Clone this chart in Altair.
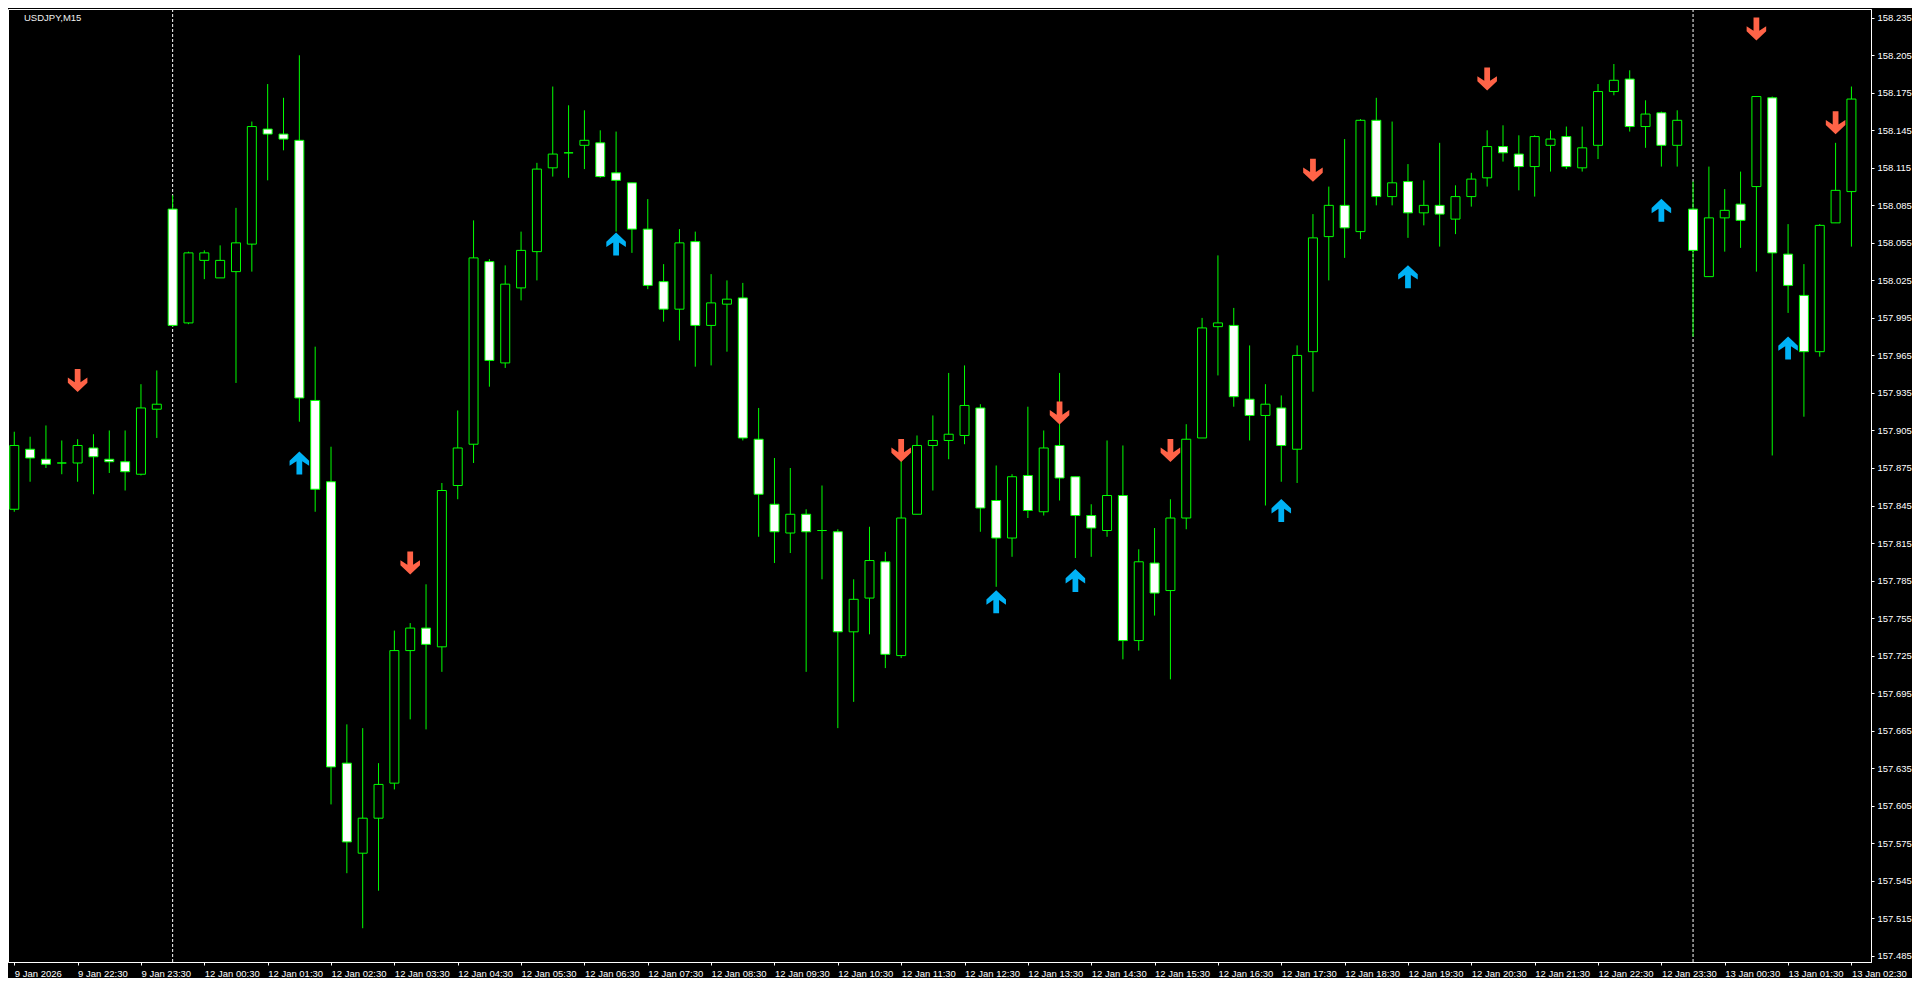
import altair as alt
import pandas as pd

symbol_label = "USDJPY,M15"

opens = [157.842, 157.890, 157.882, 157.879, 157.879, 157.891, 157.882, 157.880, 157.870, 157.922,
         158.082, 157.991, 158.041, 158.027, 158.032, 158.054, 158.146, 158.142, 158.137, 157.929,
         157.864, 157.639, 157.567, 157.595, 157.623, 157.729, 157.747, 157.732, 157.861, 157.894,
         158.040, 157.959, 158.019, 158.048, 158.115, 158.127, 158.133, 158.135, 158.111, 158.103,
         158.066, 158.024, 158.002, 158.056, 157.989, 158.006, 158.011, 157.898, 157.846, 157.823,
         157.838, 157.825, 157.824, 157.744, 157.771, 157.800, 157.725, 157.838, 157.893, 157.897,
         157.901, 157.923, 157.849, 157.819, 157.869, 157.840, 157.893, 157.868, 157.837, 157.825,
         157.853, 157.737, 157.799, 157.777, 157.835, 157.899, 157.988, 157.989, 157.930, 157.917,
         157.923, 157.890, 157.968, 158.060, 158.085, 158.064, 158.153, 158.092, 158.104, 158.079,
         158.085, 158.074, 158.092, 158.107, 158.132, 158.126, 158.116, 158.133, 158.140, 158.115,
         158.133, 158.176, 158.186, 158.148, 158.159, 158.133, 158.082, 158.028, 158.075, 158.086,
         158.100, 158.171, 158.046, 158.013, 157.968, 158.071, 158.096]
highs = [157.904, 157.900, 157.909, 157.897, 157.898, 157.902, 157.905, 157.905, 157.942, 157.953,
         158.093, 158.048, 158.049, 158.053, 158.083, 158.152, 158.182, 158.171, 158.205, 157.972,
         157.892, 157.670, 157.667, 157.639, 157.745, 157.751, 157.782, 157.863, 157.921, 158.073,
         158.042, 158.037, 158.064, 158.119, 158.180, 158.165, 158.161, 158.145, 158.144, 158.103,
         158.090, 158.038, 158.066, 158.064, 158.030, 158.025, 158.023, 157.923, 157.883, 157.875,
         157.842, 157.861, 157.826, 157.786, 157.828, 157.808, 157.883, 157.901, 157.917, 157.951,
         157.957, 157.926, 157.877, 157.870, 157.924, 157.905, 157.951, 157.868, 157.846, 157.897,
         157.893, 157.810, 157.827, 157.850, 157.910, 157.995, 158.045, 158.003, 157.973, 157.942,
         157.933, 157.973, 158.078, 158.100, 158.138, 158.154, 158.171, 158.152, 158.118, 158.105,
         158.135, 158.101, 158.111, 158.145, 158.149, 158.141, 158.141, 158.145, 158.148, 158.148,
         158.182, 158.198, 158.193, 158.169, 158.160, 158.161, 158.104, 158.116, 158.098, 158.112,
         158.172, 158.172, 158.070, 158.038, 158.070, 158.135, 158.180]
lows = [157.840, 157.864, 157.875, 157.870, 157.864, 157.854, 157.871, 157.857, 157.869, 157.899,
        157.988, 157.990, 158.026, 158.027, 157.943, 158.032, 158.105, 158.129, 157.912, 157.840,
        157.606, 157.551, 157.507, 157.537, 157.618, 157.674, 157.666, 157.712, 157.850, 157.879,
        157.940, 157.955, 158.009, 158.025, 158.108, 158.107, 158.114, 158.107, 158.064, 158.047,
        158.018, 157.992, 157.977, 157.956, 157.957, 157.968, 157.897, 157.820, 157.799, 157.807,
        157.712, 157.786, 157.667, 157.688, 157.742, 157.715, 157.723, 157.838, 157.857, 157.882,
        157.894, 157.824, 157.780, 157.804, 157.835, 157.837, 157.849, 157.803, 157.804, 157.820,
        157.722, 157.729, 157.757, 157.706, 157.826, 157.899, 157.949, 157.924, 157.897, 157.845,
        157.864, 157.863, 157.936, 158.025, 158.043, 158.058, 158.085, 158.085, 158.059, 158.069,
        158.052, 158.062, 158.084, 158.100, 158.120, 158.097, 158.092, 158.112, 158.114, 158.112,
        158.122, 158.173, 158.144, 158.131, 158.116, 158.116, 157.980, 158.028, 158.048, 158.051,
        158.032, 157.885, 157.999, 157.916, 157.964, 158.071, 158.052]
closes = [157.893, 157.883, 157.878, 157.879, 157.893, 157.884, 157.880, 157.872, 157.923, 157.926,
          157.989, 158.047, 158.047, 158.041, 158.055, 158.148, 158.142, 158.138, 157.931, 157.858,
          157.636, 157.576, 157.595, 157.622, 157.729, 157.747, 157.734, 157.857, 157.891, 158.043,
          157.961, 158.022, 158.049, 158.114, 158.126, 158.127, 158.137, 158.108, 158.105, 158.066,
          158.021, 158.002, 158.055, 157.989, 158.007, 158.010, 157.899, 157.854, 157.824, 157.838,
          157.824, 157.825, 157.744, 157.770, 157.801, 157.726, 157.835, 157.893, 157.897, 157.902,
          157.925, 157.843, 157.819, 157.868, 157.841, 157.891, 157.867, 157.837, 157.827, 157.853,
          157.737, 157.800, 157.775, 157.835, 157.898, 157.987, 157.991, 157.932, 157.917, 157.926,
          157.893, 157.965, 158.059, 158.085, 158.067, 158.153, 158.092, 158.103, 158.079, 158.085,
          158.078, 158.092, 158.106, 158.132, 158.127, 158.116, 158.140, 158.138, 158.116, 158.131,
          158.176, 158.185, 158.148, 158.158, 158.133, 158.153, 158.049, 158.075, 158.081, 158.073,
          158.172, 158.047, 158.021, 157.968, 158.069, 158.097, 158.170]

time_labels = ["9 Jan 2026", "9 Jan 22:30", "9 Jan 23:30", "12 Jan 00:30", "12 Jan 01:30",
               "12 Jan 02:30", "12 Jan 03:30", "12 Jan 04:30", "12 Jan 05:30", "12 Jan 06:30",
               "12 Jan 07:30", "12 Jan 08:30", "12 Jan 09:30", "12 Jan 10:30", "12 Jan 11:30",
               "12 Jan 12:30", "12 Jan 13:30", "12 Jan 14:30", "12 Jan 15:30", "12 Jan 16:30",
               "12 Jan 17:30", "12 Jan 18:30", "12 Jan 19:30", "12 Jan 20:30", "12 Jan 21:30",
               "12 Jan 22:30", "12 Jan 23:30", "13 Jan 00:30", "13 Jan 01:30", "13 Jan 02:30"]
label_step = 4

price_ticks = [157.485, 157.515, 157.545, 157.575, 157.605, 157.635, 157.665, 157.695, 157.725,
               157.755, 157.785, 157.815, 157.845, 157.875, 157.905, 157.935, 157.965, 157.995,
               158.025, 158.055, 158.085, 158.115, 158.145, 158.175, 158.205, 158.235]

separator_idx = [10, 106]

up_idx = [18, 38, 62, 67, 80, 88, 104, 112]
up_price = [157.879, 158.054, 157.768, 157.785, 157.841, 158.028, 158.081, 157.971]
down_idx = [4, 25, 56, 66, 73, 82, 93, 110, 115]
down_price = [157.945, 157.799, 157.889, 157.919, 157.889, 158.113, 158.186, 158.226, 158.151]

# ---------------------------------------------------------------
n = len(opens)
candles = pd.DataFrame({
    "idx": list(range(n)),
    "open": opens, "high": highs, "low": lows, "close": closes,
})
candles["dir"] = ["bull" if c >= o else "bear" for o, c in zip(opens, closes)]
seps = pd.DataFrame({"idx": separator_idx})
ups = pd.DataFrame({"idx": up_idx, "price": up_price})
downs = pd.DataFrame({"idx": down_idx, "price": down_price})
title_df = pd.DataFrame({"t": [symbol_label]})

FONT = "Liberation Sans"
GREEN = "#00FF00"

label_arr = "[" + ",".join("'" + t + "'" for t in time_labels) + "]"
x_scale = alt.Scale(domain=[-0.08, n - 0.08], nice=False, zero=False)
y_scale = alt.Scale(domain=[157.480, 158.242], nice=False, zero=False)

x_axis = alt.Axis(
    values=[i * label_step for i in range(len(time_labels))],
    labelExpr=label_arr + "[round(datum.value/" + str(label_step) + ")]",
    title=None, grid=False, orient="bottom",
    labelAlign="left", labelBaseline="top", labelPadding=3,
    tickSize=3, labelOverlap=False, labelFlush=False,
)
y_axis = alt.Axis(
    values=price_ticks, format=".3f", title=None, grid=False, orient="right",
    tickSize=3, labelPadding=3, labelOverlap=False, labelFlush=False,
)

x_enc = alt.X("idx:Q", scale=x_scale, axis=x_axis)

sep_layer = alt.Chart(seps).mark_rule(
    color="white", strokeWidth=1, strokeDash=[3, 2]
).encode(x=x_enc)

wicks = alt.Chart(candles).mark_rule(color=GREEN, strokeWidth=1).encode(
    x=x_enc,
    y=alt.Y("low:Q", scale=y_scale, axis=y_axis),
    y2="high:Q",
)

bodies = alt.Chart(candles).mark_bar(
    size=9, stroke=GREEN, strokeWidth=1
).encode(
    x=x_enc,
    y=alt.Y("open:Q", scale=y_scale, axis=y_axis),
    y2="close:Q",
    fill=alt.Fill("dir:N", scale=alt.Scale(domain=["bull", "bear"],
                                           range=["#000000", "#FFFFFF"]), legend=None),
)

UP_PATH = ("M-0.25,1 L0.25,1 L0.25,-0.15 L0.85,0.25 L0.85,-0.2 L0,-1 "
           "L-0.85,-0.2 L-0.85,0.25 L-0.25,-0.15 Z")
DOWN_PATH = ("M-0.25,-1 L0.25,-1 L0.25,0.15 L0.85,-0.25 L0.85,0.2 L0,1 "
             "L-0.85,0.2 L-0.85,-0.25 L-0.25,0.15 Z")

up_layer = alt.Chart(ups).mark_point(
    shape=UP_PATH, filled=True, size=529, color="#00B2F5", opacity=1, strokeWidth=0
).encode(x=x_enc, y=alt.Y("price:Q", scale=y_scale, axis=y_axis))

down_layer = alt.Chart(downs).mark_point(
    shape=DOWN_PATH, filled=True, size=529, color="#FF6347", opacity=1, strokeWidth=0
).encode(x=x_enc, y=alt.Y("price:Q", scale=y_scale, axis=y_axis))

title_layer = alt.Chart(title_df).mark_text(
    align="left", baseline="middle", color="#F0F0F0", font=FONT, fontSize=9.5
).encode(text="t:N", x=alt.value(16), y=alt.value(9))

chart = alt.layer(
    sep_layer, wicks, bodies, up_layer, down_layer, title_layer
).properties(
    width=1904, height=970,
    autosize=alt.AutoSizeParams(type="fit", contains="padding"),
    padding=0,
).configure(
    background="#000000"
).configure_view(
    stroke="white", strokeWidth=1, fill="#000000"
).configure_axis(
    domainColor="white", tickColor="white", labelColor="white",
    labelFont=FONT, labelFontSize=9.5, domainWidth=1, tickWidth=1,
)

chart.save("out.html", embed_options={"renderer": "svg", "actions": False})
